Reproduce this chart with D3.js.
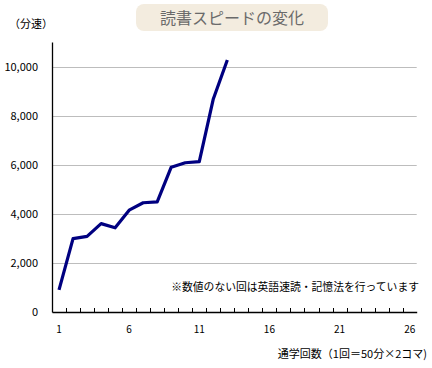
<!DOCTYPE html>
<html><head><meta charset="utf-8">
<script src="https://cdn.jsdelivr.net/npm/d3@7"></script>
<style>
body{margin:0;background:#fff;}
text{font-family:"Noto Sans CJK JP","Noto Sans",sans-serif;}
</style></head>
<body>
<script>
const sessions = d3.range(1, 27);
const speeds = [900, 2990, 3080, 3600, 3430, 4150, 4450, 4490, 5900, 6080, 6130, 8680, 10270];
const yTicks = [0, 2000, 4000, 6000, 8000, 10000];
const xLabels = [1, 6, 11, 16, 21, 26];
const title = "読書スピードの変化";
const yUnit = "（分速）";
const xTitle = "通学回数（1回＝50分×2コマ)";
const note = "※数値のない回は英語速読・記憶法を行っています";

const W = 432, H = 368;
const m = {left: 52, right: 15.3, top: 42, bottom: 56};
const svg = d3.select("body").append("svg").attr("width", W).attr("height", H);

const x = d3.scaleBand().domain(sessions).range([m.left, W - m.right]);
const y = d3.scaleLinear().domain([0, 11000]).range([H - m.bottom, m.top]);

// title box
svg.append("rect").attr("x", 136).attr("y", 4).attr("width", 192).attr("height", 27)
  .attr("rx", 8).attr("fill", "#f3ecdf");
svg.append("text").attr("x", 232).attr("y", 23.5).attr("text-anchor", "middle")
  .attr("font-size", 16).attr("fill", "#6a6a6a").text(title);

svg.append("text").attr("x", 9).attr("y", 28).attr("font-size", 11).attr("fill", "#000").text(yUnit);

// gridlines
svg.append("g").selectAll("line").data(yTicks.filter(d => d > 0)).join("line")
  .attr("x1", m.left).attr("x2", W - m.right)
  .attr("y1", d => Math.round(y(d)) + 0.5).attr("y2", d => Math.round(y(d)) + 0.5)
  .attr("stroke", "#bdbdbd").attr("stroke-width", 1);

// y axis
const yAxis = d3.axisLeft(y).tickValues(yTicks).tickSize(0).tickPadding(14)
  .tickFormat(d3.format(","));
const gy = svg.append("g").attr("transform", `translate(${m.left},0)`).call(yAxis);
gy.select(".domain").attr("stroke", "#000").attr("stroke-width", 1.3);
gy.selectAll("text").attr("font-size", 11).attr("fill", "#000").attr("dy", "0.35em");

// x axis
const xAxis = d3.axisBottom(x).tickSize(0).tickPadding(14)
  .tickFormat(d => xLabels.includes(d) ? d : "");
const gx = svg.append("g").attr("transform", `translate(0,${H - m.bottom})`).call(xAxis);
gx.select(".domain").attr("stroke", "#000").attr("stroke-width", 1.3);
gx.selectAll("text").attr("font-size", 10).attr("fill", "#000");
// small inside tick marks at category boundaries
gx.append("g").selectAll("line").data(sessions.slice(1)).join("line")
  .attr("x1", d => Math.round(x(d)) + 0.5).attr("x2", d => Math.round(x(d)) + 0.5)
  .attr("y1", 0).attr("y2", -4).attr("stroke", "#000").attr("stroke-width", 1);

// line
const line = d3.line().x((d, i) => x(sessions[i]) + x.bandwidth() / 2).y(d => y(d));
svg.append("path").datum(speeds).attr("d", line).attr("fill", "none")
  .attr("stroke", "#000080").attr("stroke-width", 3.2).attr("stroke-linejoin", "round");

svg.append("text").attr("x", 419).attr("y", 291).attr("text-anchor", "end")
  .attr("font-size", 10.8).attr("fill", "#000").text(note);

svg.append("text").attr("x", 427).attr("y", 358).attr("text-anchor", "end")
  .attr("font-size", 11).attr("fill", "#000").text(xTitle);
</script>
</body></html>
